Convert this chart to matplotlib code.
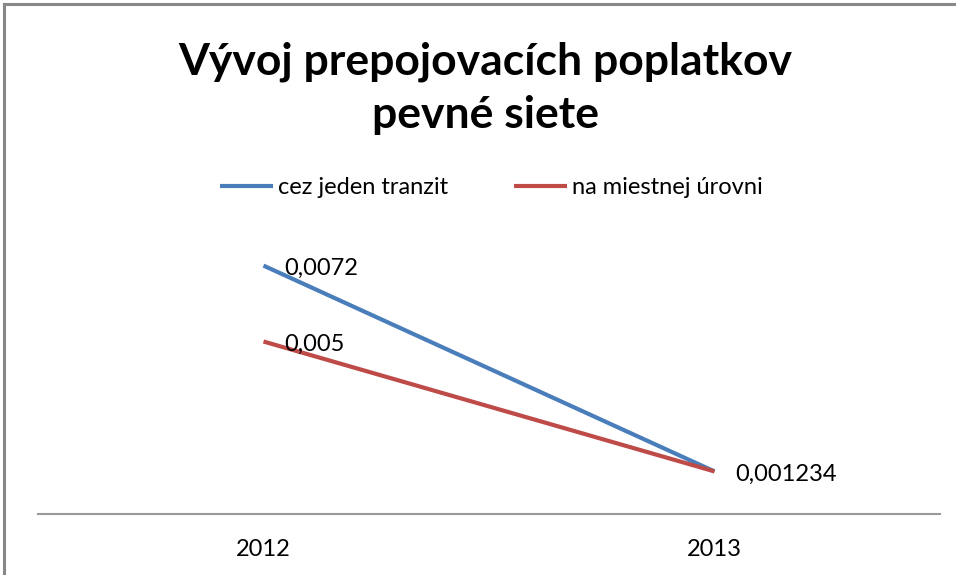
import matplotlib.pyplot as plt
from matplotlib.lines import Line2D

# data
years = ['2012', '2013']
tranzit = [0.0072, 0.001234]
miestna = [0.005, 0.001234]
labels_tranzit = ['0,0072', '0,001234']
labels_miestna = ['0,005', None]

W, H = 956, 575
fig = plt.figure(figsize=(W / 100, H / 100), dpi=100)
font = 'Lato'

# chart border (top and left, as in the screenshot)
fig.add_artist(Line2D([4 / W, 1], [1 - 4 / H, 1 - 4 / H], color='#888888', lw=2.2))
fig.add_artist(Line2D([4 / W, 4 / W], [0, 1 - 4 / H], color='#888888', lw=2.2))

# plot area: x from 38 to 940 px, y from 238 to 514 px
ax = fig.add_axes([38 / W, 1 - 514 / H, (940 - 38) / W, (514 - 238) / H])
x = range(len(years))
ax.plot(x, tranzit, color='#4A7EBB', lw=3, solid_capstyle='butt', label='cez jeden tranzit')
ax.plot(x, miestna, color='#BE4B48', lw=3, solid_capstyle='butt', label='na miestnej úrovni')

for xi, yi, lab in zip(x, tranzit, labels_tranzit):
    ax.annotate(lab, (xi, yi), xytext=(15, -2), textcoords='offset points',
                va='center', ha='left', fontsize=17, family=font)
for xi, yi, lab in zip(x, miestna, labels_miestna):
    if lab:
        ax.annotate(lab, (xi, yi), xytext=(15, -2), textcoords='offset points',
                    va='center', ha='left', fontsize=17, family=font)

ax.set_xlim(-0.5, 1.5)
ax.set_ylim(0, 0.008)
ax.set_xticks(list(x))
ax.set_xticklabels(years, fontsize=17, family=font)
ax.tick_params(axis='x', length=0, pad=18)
ax.set_yticks([])
for s in ['top', 'left', 'right']:
    ax.spines[s].set_visible(False)
ax.spines['bottom'].set_color('#999999')
ax.spines['bottom'].set_linewidth(1.5)

fig.text(485 / W, 1 - 88 / H, 'Vývoj prepojovacích poplatkov\npevné siete', ha='center', va='center',
         fontsize=32, fontweight='bold', family=font, linespacing=1.38)

fig.legend(loc='center', bbox_to_anchor=(491 / W, 1 - 188 / H), ncol=2, frameon=False,
           prop={'family': font, 'size': 17}, handlelength=2.25, handletextpad=0.2,
           columnspacing=2.8)

fig.savefig('out.png', dpi=100)
